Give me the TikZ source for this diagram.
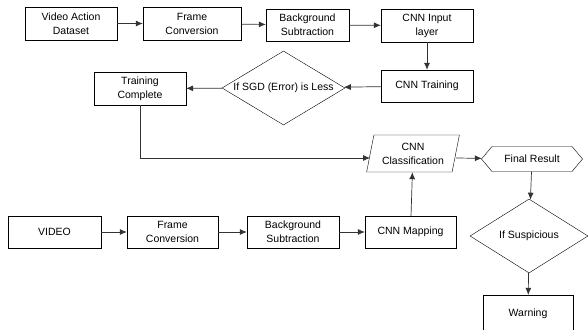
\documentclass[tikz,border=0pt]{standalone}
\usepackage{fontspec}
\setmainfont{Liberation Sans}
\usetikzlibrary{shapes.geometric,shapes.symbols,arrows.meta}
\begin{document}
\begin{tikzpicture}
  [x=1pt,y=-1pt,>={Latex[length=7pt,width=6pt]},
   every node/.style={font=\fontsize{10.5}{14}\selectfont,align=center,inner sep=0pt},
   box/.style={draw,rectangle,minimum width=92pt,minimum height=33pt},
   decide/.style={draw,diamond,aspect=1.66},
   link/.style={->,draw=black!80,line width=.7pt}]
  \useasboundingbox (0,0) rectangle (588,329);
  % training part
  \node[box] (vad) at (71,23.5) {Video Action\\Dataset};
  \node[box,minimum width=98pt] (fc1) at (192,23.5) {Frame\\Conversion};
  \node[box,minimum width=83pt,minimum height=32pt] (bs1) at (307.5,25) {Background\\Subtraction};
  \node[box] (cnnin) at (427,25.5) {CNN Input\\layer};
  \node[box,minimum height=32pt] (cnntr) at (427,86) {CNN Training};
  \node[decide,minimum width=123pt,minimum height=74pt] (sgd) at (283.5,88) {If SGD (Error) is Less};
  \node[box] (tc) at (140,88.5) {Training\\Complete};
  % testing part
  \node[box,minimum width=93pt,minimum height=32pt] (video) at (54.5,232) {VIDEO};
  \node[box,minimum width=91pt,minimum height=32pt] (fc2) at (172.5,232) {Frame\\Conversion};
  \node[box,minimum height=32pt] (bs2) at (293,232) {Background\\Subtraction};
  \node[box,minimum width=91pt,minimum height=32pt] (map) at (410.5,232) {CNN Mapping};
  \node[draw,trapezium,trapezium left angle=75,trapezium right angle=105,trapezium stretches=true,
        minimum width=93pt,minimum height=37pt] (cls) at (413,153.5) {CNN\\Classification};
  \node[draw,signal,signal to=west and east,signal pointer angle=100,
        minimum width=101pt,minimum height=25pt] (fr) at (532,159) {Final Result};
  \node[decide,minimum width=118pt,minimum height=74pt] (sus) at (529,236) {If Suspicious};
  \node[box,minimum width=90pt,minimum height=38pt] (warn) at (528,314) {Warning};

  \foreach \from/\to in {vad/fc1,fc1/bs1,bs1/cnnin,cnnin/cnntr,cnntr/sgd,sgd/tc,
  video/fc2,fc2/bs2,bs2/map,map/cls,fr/sus,sus/warn}
    \draw[link] (\from) -- (\to);
  \draw[link] ([yshift=-4.5pt]cls.east) -- (fr);
  \draw[link] (tc.south) |- ([yshift=-4.5pt]cls.west);
\end{tikzpicture}
\end{document}
